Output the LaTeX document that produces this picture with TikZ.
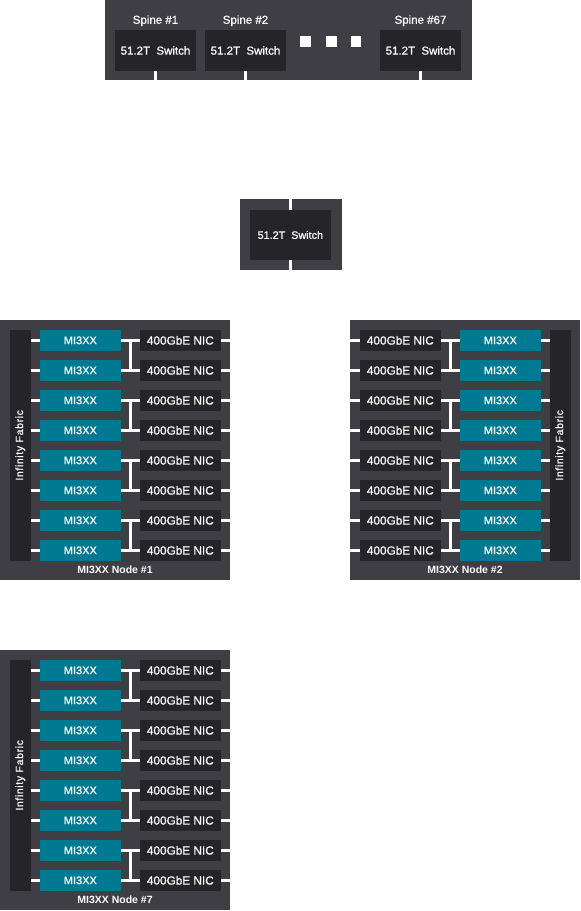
\documentclass[tikz,border=0pt]{standalone}
\usepackage{fontspec}
\setmainfont{Liberation Sans}
\newfontfamily\heavyfont[FakeBold=0.8]{Liberation Sans}
\newfontfamily\fabricfont[LetterSpace=6, FakeBold=0.6]{Liberation Sans}
\usetikzlibrary{positioning, calc}

\definecolor{panelgray}{HTML}{3F3E44}
\definecolor{boxdark}{HTML}{252428}
\definecolor{gputeal}{HTML}{007A92}

\begin{document}
\begin{tikzpicture}[
  x=1pt, y=-1pt,
  panel/.style={fill=panelgray, inner sep=0pt},
  swbox/.style={fill=boxdark, text=white, minimum width=81pt, minimum height=40.5pt, inner sep=0pt, font=\heavyfont\fontsize{11.5}{13}\selectfont},
  gpu/.style={fill=gputeal, text=white, minimum width=80.6pt, minimum height=20.6pt, inner sep=0pt, font=\heavyfont\fontsize{11}{13}\selectfont},
  nic/.style={gpu, fill=boxdark, font=\heavyfont\fontsize{11.8}{13}\selectfont},
  fabric/.style={fill=boxdark, minimum width=20.6pt, minimum height=230.6pt, inner sep=0pt},
  fabtext/.style={rotate=90, text=white, font=\fabricfont\fontsize{10.5}{12}\selectfont},
  spinelabel/.style={text=white, anchor=base, inner sep=0pt, font=\heavyfont\fontsize{11.5}{13}\selectfont},
  caption/.style={text=white, inner sep=0pt, font=\bfseries\fontsize{10.5}{12}\selectfont},
  dot/.style={fill=white, minimum size=10.5pt, inner sep=0pt},
  wire/.style={draw=white, line width=2.5pt}
]
\useasboundingbox (0,0) rectangle (581,911);

% spine layer
\node[panel, minimum width=366.5pt, minimum height=80pt] (spines) at (288.25,40) {};
\node[swbox] (sp1) at (155.5,50.5) {51.2T\ \ Switch};
\node[swbox] (sp2) at (245.5,50.5) {51.2T\ \ Switch};
\node[swbox] (sp67) at (420.5,50.5) {51.2T\ \ Switch};
\node[spinelabel] at ([yshift=6.3pt]sp1.north) {Spine \#1};
\node[spinelabel] at ([yshift=6.3pt]sp2.north) {Spine \#2};
\node[spinelabel] at ([yshift=6.3pt]sp67.north) {Spine \#67};
\node[dot] (dot1) at (305.3,41.3) {};
\node[dot] (dot2) at (331.5,41.3) {};
\node[dot] (dot3) at (356,41.3) {};
\draw[wire] (sp1.south) -- (sp1.south |- spines.south);
\draw[wire] (sp2.south) -- (sp2.south |- spines.south);
\draw[wire] (sp67.south) -- (sp67.south |- spines.south);

% leaf switch
\node[panel, minimum width=101.6pt, minimum height=70.7pt] (leaf) at (290.85,234.65) {};
\node[swbox, minimum width=80.7pt, minimum height=50pt, font=\heavyfont\fontsize{10.8}{12}\selectfont] (leafsw) at (290.35,235) {51.2T\ \ Switch};
\draw[wire] (leafsw.north) -- (leafsw.north |- leaf.north);
\draw[wire] (leafsw.south) -- (leafsw.south |- leaf.south);

% MI3XX nodes #1 and #7 (fabric on the left)
\foreach \n/\oy/\num in {A/0/1, C/330/7} {
  \node[panel, minimum width=230pt, minimum height=260pt] (node\n) at (115,450+\oy) {};
  \node[fabric] (fab\n) at (20.35,445.35+\oy) {};
  \node[fabtext] at (fab\n) {Infinity Fabric};
  \node[caption] at ([yshift=10pt]node\n.south) {MI3XX Node \#\num};
  \foreach \k in {1,...,8} {
    \node[gpu] (gpu\n\k) at (80.35,310.35+30*\k+\oy) {MI3XX};
    \node[nic] (nic\n\k) at (180.35,310.35+30*\k+\oy) {400GbE NIC};
    \draw[wire] (fab\n.east |- gpu\n\k) -- (gpu\n\k.west);
    \draw[wire] (gpu\n\k.east) -- (nic\n\k.west);
    \draw[wire] (nic\n\k.east) -- (nic\n\k.east -| node\n.east);
  }
  \foreach \a/\b in {1/2, 3/4, 5/6, 7/8}
    \draw[wire] ($(gpu\n\a.east)!0.5!(nic\n\a.west)$) -- ($(gpu\n\b.east)!0.5!(nic\n\b.west)$);
}

% MI3XX node #2 (fabric on the right)
\node[panel, minimum width=230pt, minimum height=260pt] (nodeB) at (465,450) {};
\node[fabric] (fabB) at (560.35,445.35) {};
\node[fabtext] at (fabB) {Infinity Fabric};
\node[caption] at ([yshift=10pt]nodeB.south) {MI3XX Node \#2};
\foreach \k in {1,...,8} {
  \node[nic] (nicB\k) at (400.35,310.35+30*\k) {400GbE NIC};
  \node[gpu] (gpuB\k) at (500.35,310.35+30*\k) {MI3XX};
  \draw[wire] (nodeB.west |- nicB\k) -- (nicB\k.west);
  \draw[wire] (nicB\k.east) -- (gpuB\k.west);
  \draw[wire] (gpuB\k.east) -- (gpuB\k.east -| fabB.west);
}
\foreach \a/\b in {1/2, 3/4, 5/6, 7/8}
  \draw[wire] ($(nicB\a.east)!0.5!(gpuB\a.west)$) -- ($(nicB\b.east)!0.5!(gpuB\b.west)$);
\end{tikzpicture}
\end{document}
